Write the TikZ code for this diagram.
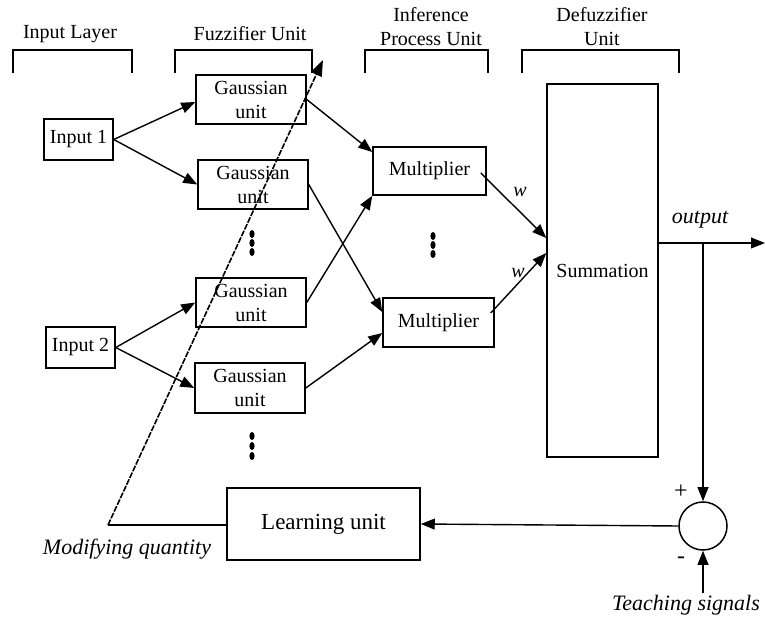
\documentclass[tikz,border=0pt]{standalone}
\usepackage{fontspec}
\setmainfont{Liberation Serif}
\usetikzlibrary{arrows.meta,calc}

\begin{document}
\begin{tikzpicture}[x=0.5pt,y=-0.5pt,
  box/.style={draw, line width=0.75pt, inner sep=0pt, align=center,
              font=\fontsize{10}{12}\selectfont},
  gbox/.style={box, minimum width=55pt, minimum height=24.5pt},
  lbl/.style={inner sep=0pt, align=center, font=\fontsize{10}{12}\selectfont},
  itl/.style={inner sep=0pt, font=\fontsize{11}{13}\selectfont\itshape},
  conn/.style={line width=0.7pt, -{Triangle[length=7pt,width=5.4pt]}},
  modline/.style={line width=0.8pt, dash pattern=on 3pt off 0.7pt,
                  -{Triangle[length=8pt,width=5.8pt]}},
  bracketline/.style={line width=0.7pt},
  vdot/.style={fill=black}
]
\useasboundingbox (0,0) rectangle (765,619);

% layer brackets and their titles
\draw[bracketline] (13,73) -- (13,50) -- (132,50) -- (132,73);
\draw[bracketline] (175,73) -- (175,50) -- (312,50) -- (312,73);
\draw[bracketline] (365,73) -- (365,50) -- (488,50) -- (488,73);
\draw[bracketline] (522,73) -- (522,50) -- (679,50) -- (679,73);
\node[lbl] (tIn)  at (70,34)  {Input Layer};
\node[lbl] (tFz)  at (250,34) {Fuzzifier Unit};
\node[lbl] (tInf) at (431,27) {Inference\\Process Unit};
\node[lbl] (tDf)  at (602,27) {Defuzzifier\\Unit};

% inputs
\node[box, minimum width=34.5pt, minimum height=20.5pt] (in1) at (78.5,139.5) {Input 1};
\node[box, minimum width=34.5pt, minimum height=20.5pt] (in2) at (80.5,347.5) {Input 2};

% fuzzifier
\node[gbox] (g1) at (251,99.5)  {Gaussian\\unit};
\node[gbox] (g2) at (253,184.5) {Gaussian\\unit};
\node[gbox] (g3) at (251,302.5) {Gaussian\\unit};
\node[gbox, minimum height=25pt] (g4) at (250,388) {Gaussian\\unit};

% inference
\node[box, minimum width=56.5pt, minimum height=24pt] (m1) at (429.5,171) {Multiplier};
\node[box, minimum width=55.5pt, minimum height=24.5pt] (m2) at (438.5,322.5) {Multiplier};

% defuzzifier
\node[box, minimum width=55.5pt, minimum height=186.5pt] (sum) at (602.5,270.5) {Summation};

% learning loop
\node[box, minimum width=96.5pt, minimum height=36pt,
      font=\fontsize{11.5}{13}\selectfont] (learn) at (323.5,524) {Learning unit};
\node[draw, circle, line width=0.75pt, minimum size=24pt, inner sep=0pt] (cmp) at (703,526) {};

% vertical ellipsis marks
\foreach \cx/\cy in {252/234, 252/243, 252/252,
                     433/236, 433/245, 433/254,
                     252/436, 252/446, 252/456}
  \fill[vdot] (\cx,\cy) ellipse [x radius=1.3pt, y radius=2pt];

% input to fuzzifier
\draw[conn] (in1.east) -- ($(g1.west)+(0,2.5)$);
\draw[conn] (in1.east) -- (g2.west);
\draw[conn] (in2.east) -- (g3.west);
\draw[conn] (in2.east) -- (g4.west);

% fuzzifier to inference
\draw[conn] (g1.east) -- ($(m1.west)+(0,-19)$);
\draw[conn] (g2.east) -- ($(m2.west)+(0,-10.5)$);
\draw[conn] (g3.east) -- (m1.south west);
\draw[conn] (g4.east) -- ($(m2.west)+(0,10.5)$);

% inference to summation
\draw[conn] ($(m1.east)+(-6,2)$) -- ($(sum.west)+(0,-32.5)$);
\draw[conn] ($(m2.east)+(-4,-9.5)$) -- ($(sum.west)+(0,-17.5)$);
\node[itl, font=\fontsize{10}{12}\selectfont\itshape] (w1) at (520,192) {w};
\node[itl, font=\fontsize{10}{12}\selectfont\itshape] (w2) at (518,273) {w};

% output and error feedback
\coordinate (tap) at (703,243);
\coordinate (outend) at (765,243);
\coordinate (teach) at (703,593);
\draw[conn] (sum.east |- tap) -- (outend);
\draw[conn] (tap) -- (cmp.north);
\draw[conn] (teach) -- (cmp.south);
\draw[conn] (cmp.west) -- (learn.east);
\node[itl] (outlbl) at (700,220) {output};
\node[lbl, font=\fontsize{12}{14}\selectfont] (plus)  at (681,492) {+};
\node[lbl, font=\fontsize{12}{14}\selectfont] (minus) at (681,560) {-};
\node[itl] (teachlbl) at (686,605) {Teaching signals};

% modifying quantity path
\coordinate (mq) at (108,525);
\coordinate (mqtip) at (323,60);
\draw[line width=0.7pt] (learn.west |- mq) -- (mq);
\draw[modline] (mq) -- (mqtip);
\node[itl] (mqlbl) at (127,549) {Modifying quantity};
\end{tikzpicture}
\end{document}
